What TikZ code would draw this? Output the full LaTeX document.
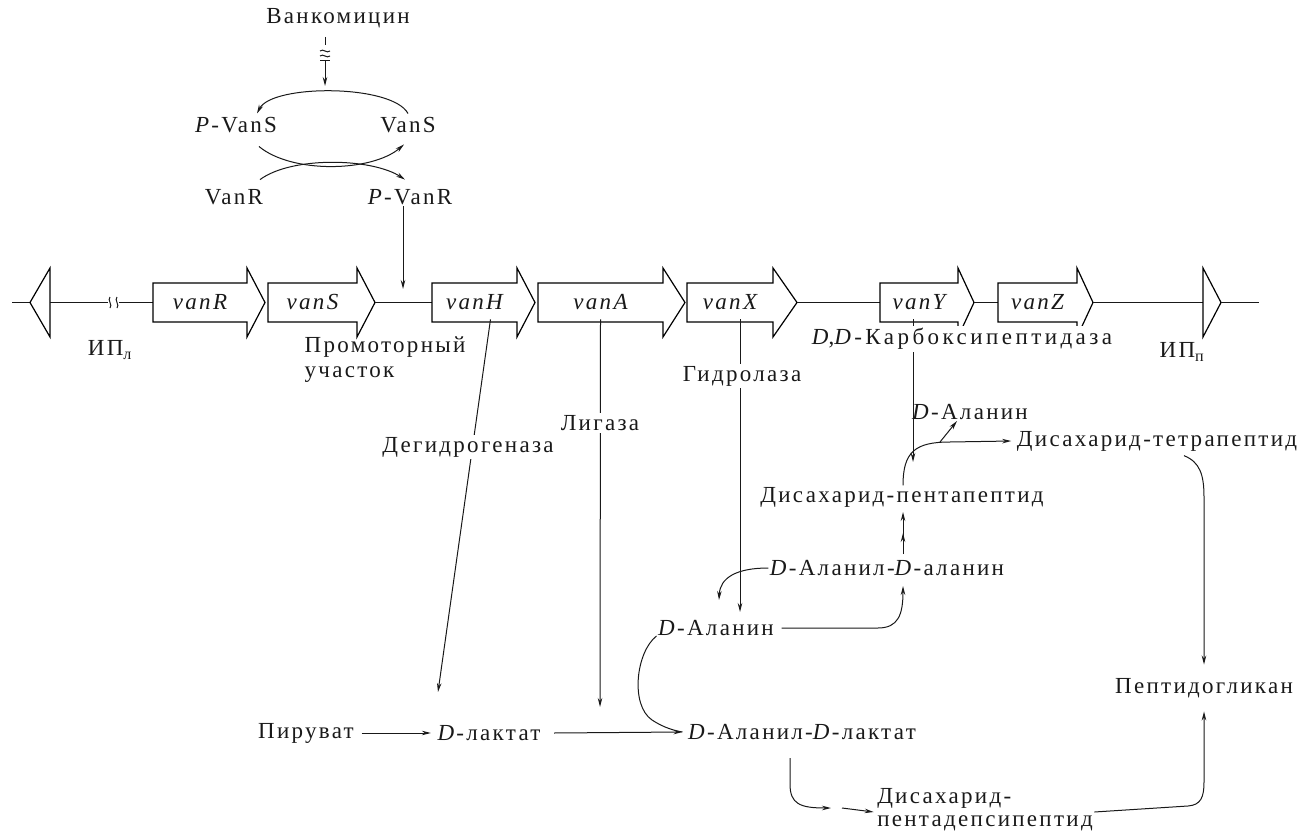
\documentclass[tikz,border=0pt]{standalone}
\usepackage{fontspec}
\setmainfont{Liberation Serif}[LetterSpace=10]
\usetikzlibrary{arrows.meta}
\tikzset{
  arr/.style={-{Stealth[length=9pt,width=4.5pt]}},
  ln/.style={line width=1pt, draw=black!90},
  gene/.style={line width=1.2pt, draw=black},
  txt/.style={inner sep=1.5pt, text=black!90},
  lbl/.style={inner sep=2pt, fill=white, text=black!90},
}
\newcommand\genearrow[5]{%
  \draw[gene] (#2,283) -- (#3,283) -- (#3,268) -- (#4,302.5) -- (#3,337) -- (#3,322) -- (#2,322) -- cycle;
  \node[txt] (#1) at ({(#2+#3)/2},302) {\itshape #5};
}
\begin{document}
\begin{tikzpicture}[x=1pt,y=-1pt,font=\fontsize{23}{28}\selectfont]
\useasboundingbox (0,0) rectangle (1301,837);

% --- regulation ---
\node[txt] (vanc) at (338,18) {Ванкомицин};
\node[txt] (pvans) at (236,125) {\textit{P}-VanS};
\node[txt] (vans) at (408,125) {VanS};
\node[txt] (vanr) at (234,197) {VanR};
\node[txt] (pvanr) at (410,197) {\textit{P}-VanR};

% vancomycin inhibition mark
\coordinate (vi1) at (325,37);
\coordinate (vi2) at (325,86);
\draw[ln] (vi1) -- ++(0,8);
\draw[ln] (320,51) .. controls (323,48) and (327,54) .. (330,51);
\draw[ln] (320,56) .. controls (323,53) and (327,59) .. (330,56);
\draw[ln] (320,61) -- (330,61);
\draw[ln,arr] (325,61) -- (vi2);

\draw[ln,arr] ([yshift=2pt]vans.north) .. controls (392,84) and (272,84) .. ([xshift=21pt,yshift=2pt]pvans.north);
\draw[ln,arr] ([xshift=23pt,yshift=-12pt]pvans.south) .. controls (292,174) and (372,172) .. ([xshift=-4pt,yshift=-10pt]vans.south);
\draw[ln,arr] ([xshift=26pt,yshift=8pt]vanr.north) .. controls (292,156) and (372,158) .. ([xshift=-5pt,yshift=8pt]pvanr.north);

% --- gene row ---
\coordinate (L0) at (12,302.5);
\coordinate (Ltip) at (30,302.5);
\draw[ln] (L0) -- (Ltip);
\draw[gene] (Ltip) -- (50,268) -- (50,337) -- cycle;
\draw[ln] (50,302.5) -- (108,302.5);
\draw[ln] (110,297) .. controls (107,300) and (113,305) .. (110,308);
\draw[ln] (117,297) .. controls (114,300) and (120,305) .. (117,308);
\draw[ln] (119,302.5) -- (153,302.5);
\genearrow{vanR}{153}{247}{265}{vanR}
\genearrow{vanS}{268}{357}{375}{vanS}
\draw[ln] (375,302.5) -- (432,302.5);
\genearrow{vanH}{432}{517}{535}{vanH}
\genearrow{vanA}{538}{663}{685}{vanA}
\genearrow{vanX}{687}{773}{797}{vanX}
\draw[ln] (797,302.5) -- (880,302.5);
\genearrow{vanY}{880}{958}{974}{vanY}
\draw[ln] (974,302.5) -- (998,302.5);
\genearrow{vanZ}{998}{1077}{1093}{vanZ}
\draw[ln] (1093,302.5) -- (1203,302.5);
\coordinate (Rtip) at (1221,302.5);
\draw[gene] (1203,268) -- (Rtip) -- (1203,337) -- cycle;
\coordinate (R0) at (1259,302.5);
\draw[ln] (Rtip) -- (R0);

\coordinate (prom) at (403,289);
\draw[ln,arr] ([xshift=-7pt]pvanr.south) -- (prom);

\node[txt] (ipl) at (110,350) {ИП\textsubscript{л}};
\node[txt] (ipp) at (1182,352) {ИП\textsubscript{п}};
\node[txt,align=left,anchor=north west] (promtxt) at (303,335) {Промоторный\\[-3pt]участок};

% --- metabolites ---
\node[txt] (dala1) at (970,412) {\textit{D}-Аланин};
\node[txt] (tetra) at (1157,441) {Дисахарид-тетрапептид};
\node[txt] (penta) at (902,497) {Дисахарид-пентапептид};
\node[txt] (dalaala) at (887,568) {\textit{D}-Аланил-\textit{D}-аланин};
\node[txt] (dala2) at (716,628) {\textit{D}-Аланин};
\node[txt] (pg) at (1204,688) {Пептидогликан};
\node[txt] (pyr) at (306,733) {Пируват};
\node[txt] (dlac) at (489,733) {\textit{D}-лактат};
\node[txt] (dalalac) at (802,732) {\textit{D}-Аланил-\textit{D}-лактат};
\node[txt,align=left] (depsi) at (985,810) {Дисахарид-\\[-5pt]пентадепсипептид};

% --- enzyme arrows ---
\coordinate (dhend) at (438,692);
\coordinate (ligend) at (600,707);
\coordinate (hyend) at (740,612);
\coordinate (cpend) at (913,462);
\draw[ln,arr] ([xshift=16pt,yshift=-8pt]vanH.south) -- (dhend);
\draw[ln,arr] ([xshift=0pt,yshift=-8pt]vanA.south) -- (ligend);
\draw[ln,arr] ([xshift=10pt,yshift=-8pt]vanX.south) -- (hyend);
\draw[ln,arr] ([xshift=-6pt,yshift=-8pt]vanY.south) -- (cpend);
\node[lbl] (dehyd) at (468,447) {Дегидрогеназа};
\node[lbl] (liga) at (600,423) {Лигаза};
\node[lbl] (hydro) at (742,376) {Гидролаза};
\node[lbl] (ddcarb) at (962,339) {\addfontfeature{LetterSpace=15}\textit{D},\textit{D}-Карбоксипептидаза};

% --- pathway arrows ---
\draw[ln,arr] (pyr.east) ++(6,0) -- ([xshift=-5pt]dlac.west);
\draw[ln,arr] ([xshift=12pt]dlac.east) -- ([xshift=-4pt]dalalac.west);
\draw[ln] ([xshift=0pt,yshift=-8pt]dala2.west) .. controls (636,652) and (630,705) .. (652,720) .. controls (664,728) and (676,731) .. ([xshift=-4pt]dalalac.west);
\draw[ln,arr] (dalaala.west) .. controls (736,568) and (720,578) .. (719,600);
\draw[ln,arr] ([xshift=6pt]dala2.east) -- (878,628) .. controls (898,628) and (903,615) .. (903,586);
\draw[ln,arr] (903,554) -- (903,533);
\draw[ln,arr] (903,540) -- (903,512);
\draw[ln,arr] ([xshift=1pt]penta.north) .. controls (903,452) and (915,442) .. (950,442) -- ([xshift=-4pt]tetra.west);
\draw[ln,arr] (940,442) -- (957,421);
\draw[ln,arr] ([xshift=27pt,yshift=-3pt]tetra.south) .. controls (1200,462) and (1204,475) .. (1204,497) -- ([yshift=12pt]pg.north);
\draw[ln,arr] (790,758) -- (790,784) .. controls (790,804) and (800,808) .. (831,808);
\draw[ln,arr] (842,808) -- ([xshift=-2pt,yshift=-2pt]depsi.west);
\draw[ln,arr] ([yshift=-2pt]depsi.east) -- (1188,806) .. controls (1201,805) and (1204,797) .. (1204,782) -- ([yshift=-12pt]pg.south);
\end{tikzpicture}
\end{document}
